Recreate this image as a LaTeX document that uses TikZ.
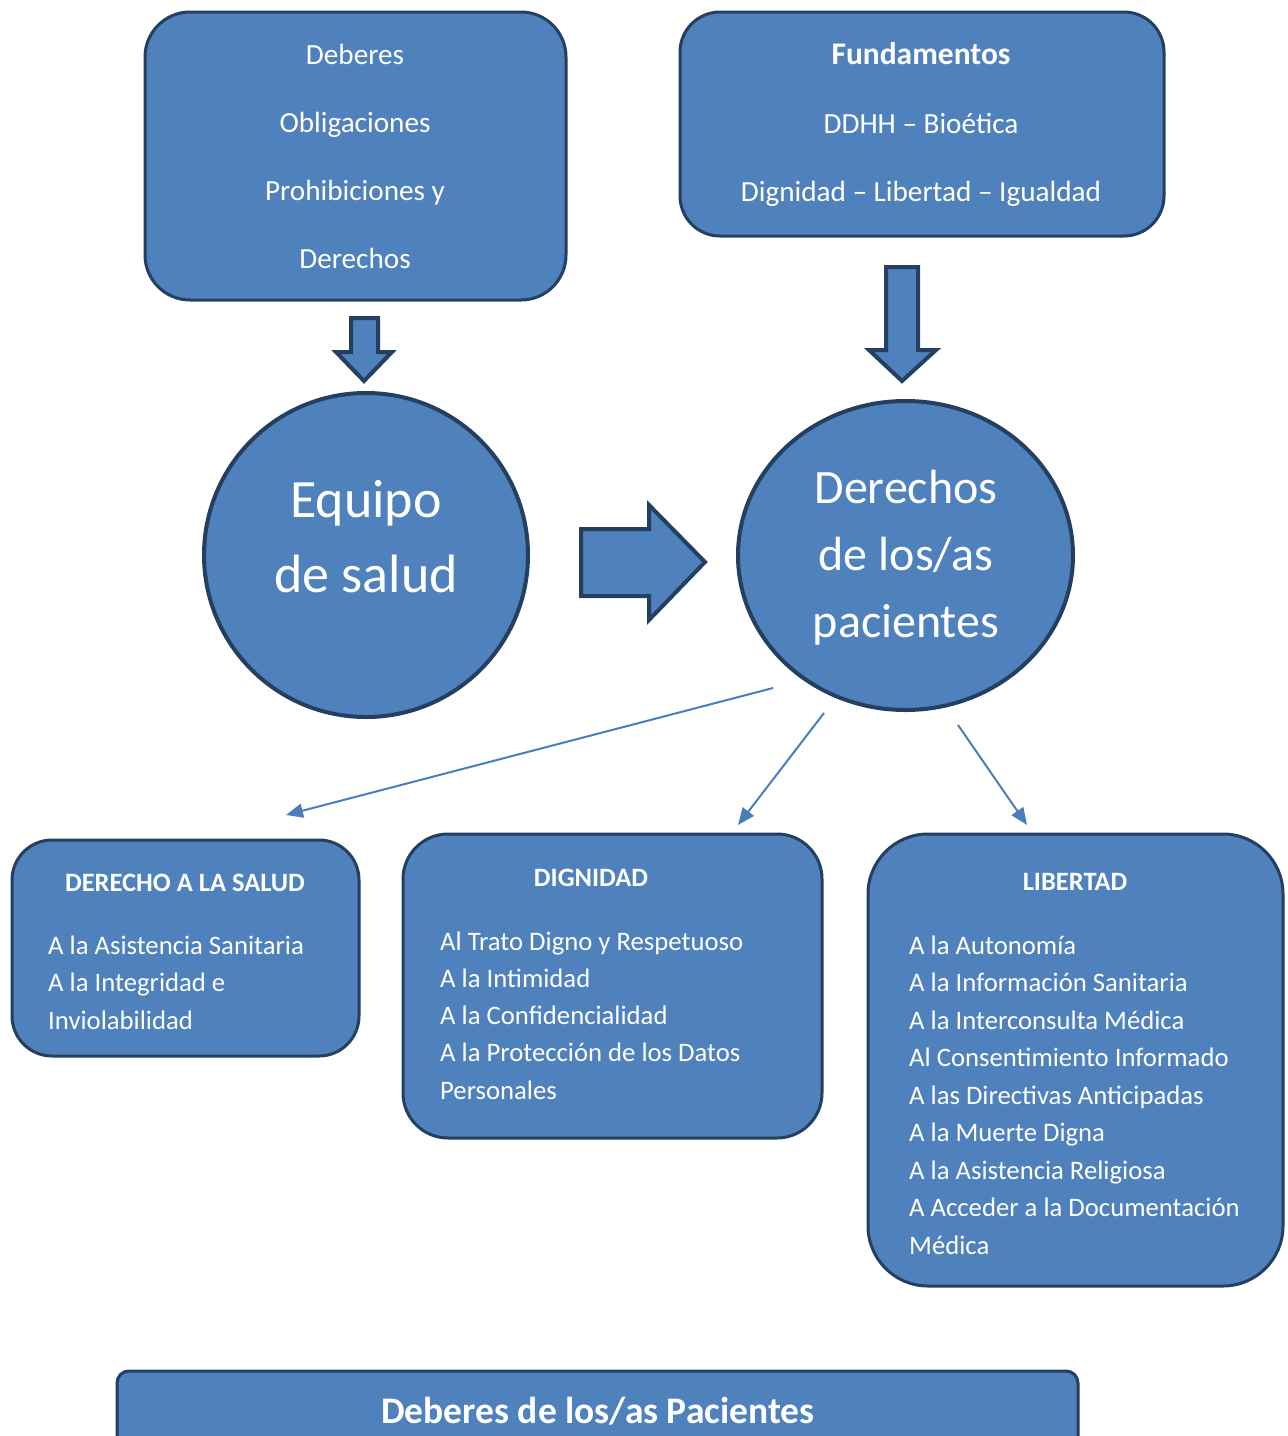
\documentclass[tikz,border=0pt]{standalone}
\usepackage{fontspec}
\setmainfont{Carlito}
\usetikzlibrary{shapes.geometric,arrows.meta}
\definecolor{bl}{HTML}{4F81BD}
\definecolor{dk}{HTML}{243F60}
\definecolor{ln}{HTML}{4A7EBB}
\tikzset{
  box/.style={draw=dk, fill=bl, line width=3pt, rounded corners=#1, inner sep=0pt},
  blockarrow/.style={draw=dk, fill=bl, line width=4pt, line join=miter},
  txt/.style={text=white, inner sep=0pt, font=\fontsize{26.7}{30}\selectfont},
  headtxt/.style={text=white, inner sep=0pt, font=\fontsize{26.5}{30}\selectfont\bfseries},
  toptxt/.style={text=white, inner sep=0pt, font=\fontsize{29.2}{34}\selectfont},
  bigtxt/.style={text=white, inner sep=0pt, font=\fontsize{54}{60}\selectfont},
  thin/.style={draw=ln, line width=2pt, -{Triangle[length=17pt,width=14pt]}},
}
\begin{document}
\begin{tikzpicture}[x=1pt,y=-1pt]
\clip (0,0) rectangle (1288,1436);
\fill[white] (0,0) rectangle (1288,1436);

% top boxes
\node[box=45pt, minimum width=421pt, minimum height=288pt] (b1) at (355.5,156) {};
\foreach \t [count=\i] in {Deberes,Obligaciones,Prohibiciones y,Derechos}
  \node[toptxt, anchor=base] (b1l\i) at (355, 64+68*\i-68) {\t};

\node[box=40pt, minimum width=484pt, minimum height=224pt] (b2) at (922,124) {};
\node[toptxt, anchor=base, font=\fontsize{31.5}{34}\selectfont\bfseries] (b2h) at (921,64) {Fundamentos};
\node[toptxt, anchor=base] (b2l1) at (921,133) {DDHH -- Bioética};
\node[toptxt, anchor=base] (b2l2) at (921,201) {Dignidad -- Libertad -- Igualdad};

% block arrows
\draw[blockarrow] (351,318) -- (378,318) -- (378,352) -- (392,352) -- (364,381)
  -- (336,352) -- (351,352) -- cycle;
\draw[blockarrow] (886,267) -- (918,267) -- (918,350) -- (936,350) -- (902,381)
  -- (869,350) -- (886,350) -- cycle;
\draw[blockarrow] (581,529) -- (649,529) -- (649,505) -- (705,562) -- (649,620)
  -- (649,596) -- (581,596) -- cycle;

% circles
\node[circle, draw=dk, fill=bl, line width=4pt, minimum size=324pt, inner sep=0pt] (eq) at (366,555) {};
\node[bigtxt, anchor=base] (eq1) at (366,517) {Equipo};
\node[bigtxt, anchor=base] (eq2) at (366,592) {de salud};

\node[ellipse, draw=dk, fill=bl, line width=4pt, minimum width=335pt, minimum height=309pt, inner sep=0pt] (pac) at (905.5,555.5) {};
\node[bigtxt, anchor=base, font=\fontsize{48}{55}\selectfont] (pac1) at (906,503) {Derechos};
\node[bigtxt, anchor=base, font=\fontsize{48}{55}\selectfont] (pac2) at (906,570) {de los/as};
\node[bigtxt, anchor=base, font=\fontsize{48}{55}\selectfont] (pac3) at (906,637) {pacientes};

% thin arrows
\coordinate (s1) at (773,688);
\coordinate (e1) at (286,815);
\coordinate (s2) at (824,713);
\coordinate (e2) at (738,825);
\coordinate (s3) at (958,725);
\coordinate (e3) at (1027,825);
\draw[thin] (s1) -- (e1);
\draw[thin] (s2) -- (e2);
\draw[thin] (s3) -- (e3);

% lower boxes
\node[box=40pt, minimum width=347pt, minimum height=216pt] (b3) at (185.5,948) {};
\node[headtxt, anchor=base] (b3h) at (185,891) {DERECHO A LA SALUD};
\foreach \t [count=\i] in {A la Asistencia Sanitaria,A la Integridad e,Inviolabilidad}
  \node[txt, anchor=base west] (b3l\i) at (48, 954+37.5*\i-37.5) {\t};

\node[box=45pt, minimum width=419pt, minimum height=304pt] (b4) at (612.5,986) {};
\node[headtxt, anchor=base] (b4h) at (591,886) {DIGNIDAD};
\foreach \t [count=\i] in {Al Trato Digno y Respetuoso,A la Intimidad,A la Confidencialidad,A la Protección de los Datos,Personales}
  \node[txt, anchor=base west] (b4l\i) at (440, 950+37.3*\i-37.3) {\t};

\node[box=60pt, minimum width=415pt, minimum height=452pt] (b5) at (1075.5,1060) {};
\node[headtxt, anchor=base] (b5h) at (1075,890) {LIBERTAD};
\foreach \t [count=\i] in {A la Autonomía,A la Información Sanitaria,A la Interconsulta Médica,Al Consentimiento Informado,A las Directivas Anticipadas,A la Muerte Digna,A la Asistencia Religiosa,A Acceder a la Documentación,Médica}
  \node[txt, anchor=base west] (b5l\i) at (909, 954+37.5*\i-37.5) {\t};

% bottom box
\node[box=12pt, minimum width=961pt, minimum height=110pt] (b6) at (597.5,1426) {};
\node[txt, anchor=base, font=\fontsize{37.5}{40}\selectfont\bfseries] (b6t) at (598,1423) {Deberes de los/as Pacientes};
\end{tikzpicture}
\end{document}
